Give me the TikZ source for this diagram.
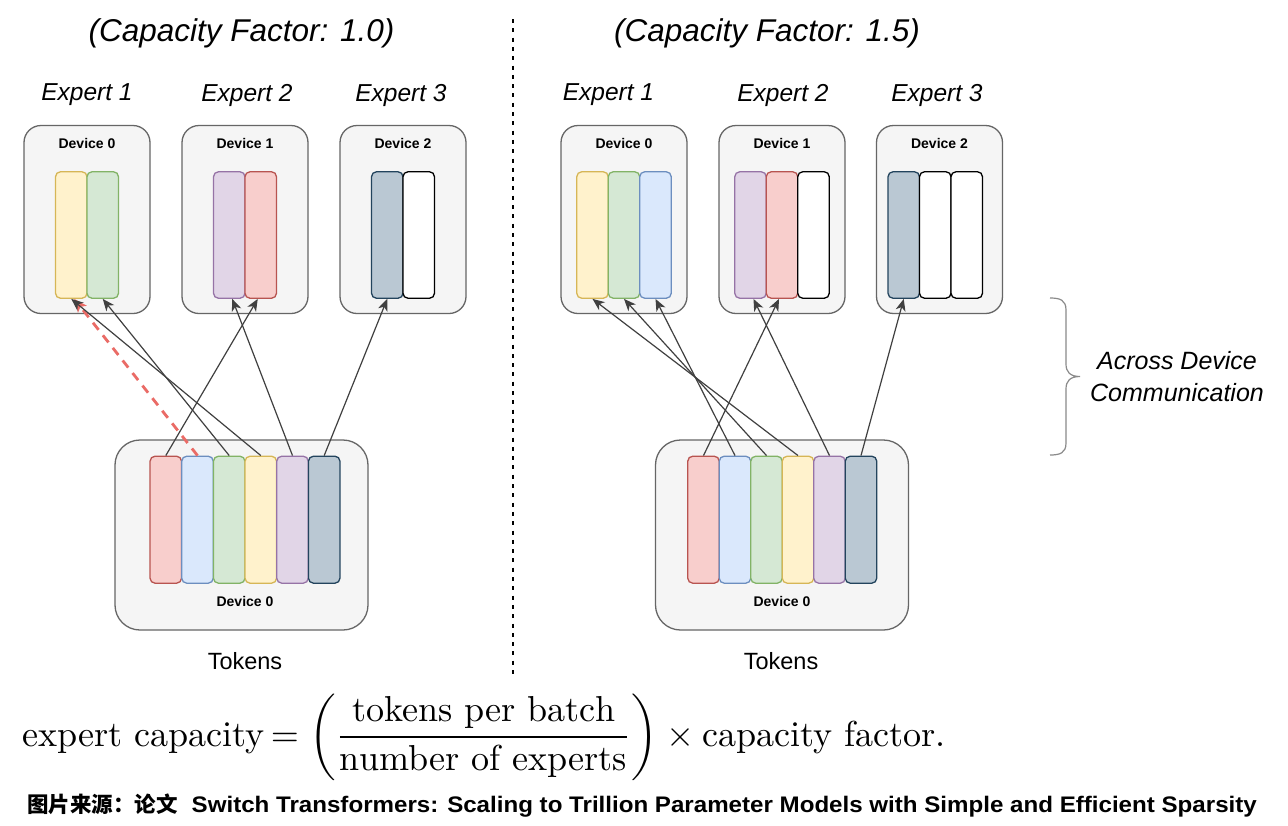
\documentclass[tikz,border=0pt]{standalone}
\usepackage{fontspec}
\usepackage{amsmath}
\usepackage{graphicx}
\newfontfamily\arial{Liberation Sans}
\newfontfamily\cjk{Noto Sans CJK SC}
\usetikzlibrary{arrows.meta}
\definecolor{boxD}{HTML}{666666}
\definecolor{boxF}{HTML}{F5F5F5}
\definecolor{yelD}{HTML}{D6B656}\definecolor{yelF}{HTML}{FFF2CC}
\definecolor{grnD}{HTML}{82B366}\definecolor{grnF}{HTML}{D5E8D4}
\definecolor{bluD}{HTML}{6C8EBF}\definecolor{bluF}{HTML}{DAE8FC}
\definecolor{redD}{HTML}{B85450}\definecolor{redF}{HTML}{F8CECC}
\definecolor{purD}{HTML}{9673A6}\definecolor{purF}{HTML}{E1D5E7}
\definecolor{drkD}{HTML}{23445D}\definecolor{drkF}{HTML}{BAC8D3}
\definecolor{arrowC}{HTML}{404040}
\definecolor{dashRed}{HTML}{EA6B66}
\definecolor{braceC}{HTML}{8A8A8A}
\tikzset{
  devbox/.style={draw=boxD, fill=boxF, line width=1.3pt, rounded corners=17pt,
    minimum width=126pt, minimum height=188pt, inner sep=0pt},
  tokbox/.style={draw=boxD, fill=boxF, line width=1.3pt, rounded corners=25pt,
    minimum width=253pt, minimum height=190pt, inner sep=0pt},
  colbar/.style={line width=1.3pt, rounded corners=5pt, minimum width=31.5pt,
    inner sep=0pt},
  ebar/.style={colbar, minimum height=126.5pt},
  tbar/.style={colbar, minimum height=127pt},
  cYel/.style={draw=yelD, fill=yelF},
  cGrn/.style={draw=grnD, fill=grnF},
  cBlu/.style={draw=bluD, fill=bluF},
  cRed/.style={draw=redD, fill=redF},
  cPur/.style={draw=purD, fill=purF},
  cDrk/.style={draw=drkD, fill=drkF},
  cWht/.style={draw=black, fill=white},
  devlbl/.style={font=\arial\bfseries\fontsize{14}{16}\selectfont, inner sep=0pt},
  explbl/.style={font=\arial\itshape\fontsize{24.5}{29}\selectfont, inner sep=0pt},
  titlelbl/.style={font=\arial\itshape\fontsize{31.5}{36}\selectfont, inner sep=0pt},
  toklbl/.style={font=\arial\fontsize{23.5}{28}\selectfont, inner sep=0pt},
  route/.style={draw=arrowC, line width=1.2pt, -{Stealth[length=12pt,width=10pt,inset=3.5pt]}},
  redroute/.style={draw=dashRed, line width=2.8pt, dash pattern=on 9pt off 7pt,
    -{Stealth[length=13pt,width=11pt,inset=3pt]}},
  sepline/.style={draw=black, line width=1.5pt, dash pattern=on 4pt off 5.3pt},
}
\begin{document}
\begin{tikzpicture}[x=1pt,y=-1pt]
\useasboundingbox (0,0) rectangle (1288,825);
\fill[white] (0,0) rectangle (1288,825);

% titles
\node[titlelbl] (titleL) at (241.5,33) {(Capacity Factor: 1.0)};
\node[titlelbl] (titleR) at (767,33) {(Capacity Factor: 1.5)};

% separator
\coordinate (sepTop) at (513,19);
\coordinate (sepBot) at (513,678);
\draw[sepline] (sepTop) -- (sepBot);

% expert labels
\node[explbl] (exL1) at (87,95) {Expert 1};
\node[explbl] (exL2) at (247,95) {Expert 2};
\node[explbl] (exL3) at (401,95) {Expert 3};
\node[explbl] (exR1) at (608.5,95) {Expert 1};
\node[explbl] (exR2) at (783,95) {Expert 2};
\node[explbl] (exR3) at (937,95) {Expert 3};

% left device boxes
\node[devbox] (dL0) at (87,219.5) {};
\node[devbox] (dL1) at (245,219.5) {};
\node[devbox] (dL2) at (403,219.5) {};
\node[devlbl] at (87,143) {Device 0};
\node[devlbl] at (245,143) {Device 1};
\node[devlbl] at (403,143) {Device 2};
\node[ebar,cYel] (eL0a) at (71.25,235) {};
\node[ebar,cGrn] (eL0b) at (102.75,235) {};
\node[ebar,cPur] (eL1a) at (229.25,235) {};
\node[ebar,cRed] (eL1b) at (260.75,235) {};
\node[ebar,cDrk] (eL2a) at (387.25,235) {};
\node[ebar,cWht] (eL2b) at (418.75,235) {};

% right device boxes
\node[devbox] (dR0) at (624,219.5) {};
\node[devbox] (dR1) at (782,219.5) {};
\node[devbox] (dR2) at (939.5,219.5) {};
\node[devlbl] at (624,143) {Device 0};
\node[devlbl] at (782,143) {Device 1};
\node[devlbl] at (939.5,143) {Device 2};
\node[ebar,cYel] (eR0a) at (592.5,235) {};
\node[ebar,cGrn] (eR0b) at (624,235) {};
\node[ebar,cBlu] (eR0c) at (655.5,235) {};
\node[ebar,cPur] (eR1a) at (750.5,235) {};
\node[ebar,cRed] (eR1b) at (782,235) {};
\node[ebar,cWht] (eR1c) at (813.5,235) {};
\node[ebar,cDrk] (eR2a) at (903.75,235) {};
\node[ebar,cWht] (eR2b) at (935.25,235) {};
\node[ebar,cWht] (eR2c) at (966.75,235) {};

% token boxes
\node[tokbox] (tL) at (241.5,535) {};
\node[devlbl] at (245,601) {Device 0};
\node[tbar,cRed] (tL1) at (165.8,519.7) {};
\node[tbar,cBlu] (tL2) at (197.5,519.7) {};
\node[tbar,cGrn] (tL3) at (229.2,519.7) {};
\node[tbar,cYel] (tL4) at (260.8,519.7) {};
\node[tbar,cPur] (tL5) at (292.5,519.7) {};
\node[tbar,cDrk] (tL6) at (324.2,519.7) {};

\node[tokbox] (tR) at (782,535) {};
\node[devlbl] at (782,601) {Device 0};
\node[tbar,cRed] (tR1) at (703.5,519.7) {};
\node[tbar,cBlu] (tR2) at (735,519.7) {};
\node[tbar,cGrn] (tR3) at (766.5,519.7) {};
\node[tbar,cYel] (tR4) at (798,519.7) {};
\node[tbar,cPur] (tR5) at (829.5,519.7) {};
\node[tbar,cDrk] (tR6) at (861,519.7) {};

\node[toklbl] (tokLblL) at (245,661) {Tokens};
\node[toklbl] (tokLblR) at (781,661) {Tokens};

% left connectors
\draw[redroute] (tL2.north) -- ([xshift=3pt]eL0a.south);
\draw[route] (tL1.north) -- ([xshift=-3pt]eL1b.south);
\draw[route] (tL3.north) -- (eL0b.south);
\draw[route] (tL4.north) -- (eL0a.south);
\draw[route] (tL5.north) -- ([xshift=3pt]eL1a.south);
\draw[route] (tL6.north) -- (eL2a.south);

% right connectors
\draw[route] (tR1.north) -- ([xshift=-3pt]eR1b.south);
\draw[route] (tR2.north) -- (eR0c.south);
\draw[route] (tR3.north) -- (eR0b.south);
\draw[route] (tR4.north) -- (eR0a.south);
\draw[route] (tR5.north) -- ([xshift=3pt]eR1a.south);
\draw[route] (tR6.north) -- (eR2a.south);

% brace
\draw[braceC, line width=1.2pt] (1050,298) .. controls (1060,298) and (1066,300) .. (1066,310)
  -- (1066,364) .. controls (1066,372) and (1070,376.5) .. (1080,376.5)
  .. controls (1070,376.5) and (1066,381) .. (1066,389)
  -- (1066,443) .. controls (1066,453) and (1060,455) .. (1050,455);
\node[explbl, font=\arial\itshape\fontsize{25}{30}\selectfont, align=center] (across) at (1177,377) {Across Device\\[2pt]Communication};

% formula
\node[anchor=base west, inner sep=0pt] (formula) at (22,746)
  {\scalebox{3.61}{$\displaystyle \text{expert capacity}\mkern-2mu=\left(\frac{\text{tokens per batch}}{\text{number of experts}}\right)\times\text{capacity factor.}$}};

% caption
\node[anchor=base west, inner sep=0pt] (caption) at (27,812)
  {{\fontsize{21.5}{24}\selectfont\cjk\bfseries 图片来源：论文}\hspace{14pt}\scalebox{1.072}[1]{\fontsize{22.5}{26}\selectfont\arial\bfseries Switch Transformers: Scaling to Trillion Parameter Models with Simple and Efficient Sparsity}};
\end{tikzpicture}
\end{document}
